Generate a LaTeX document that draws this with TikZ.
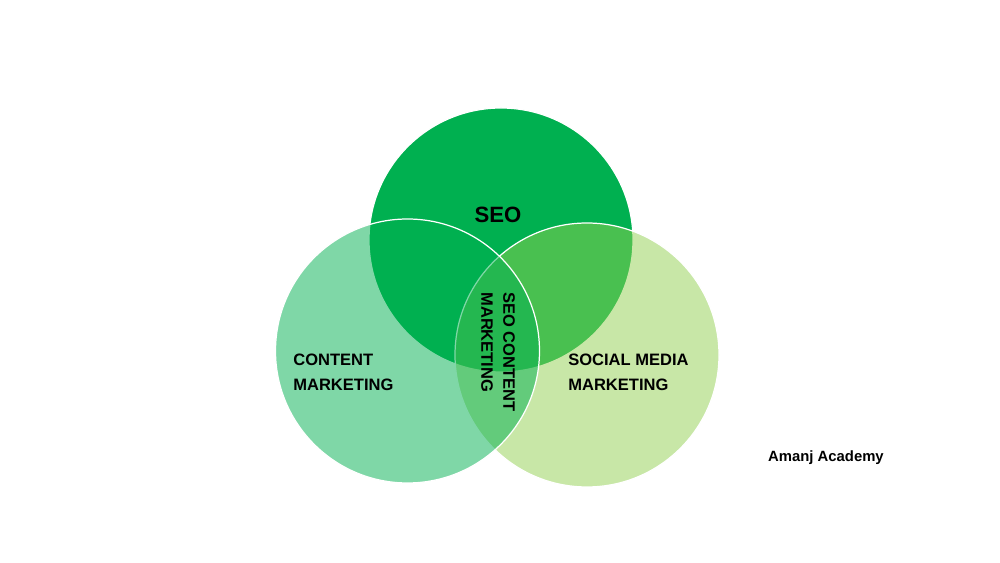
\documentclass[tikz,border=0pt]{standalone}
\usepackage{fontspec}
\setmainfont{Liberation Sans}
\usetikzlibrary{positioning}
\definecolor{seogreen}{HTML}{00B050}
\definecolor{lightgreen}{HTML}{92D050}
\tikzset{
  set/.style={circle,inner sep=0pt,minimum size=5.28cm,draw=white,line width=.7pt},
  lbl/.style={font=\bfseries\fontsize{9.4}{14.2}\selectfont,align=left,inner sep=0pt}
}
\begin{document}
\begin{tikzpicture}
\useasboundingbox[fill=white] (0,0) rectangle (20,11.26);
% the three sets
\node[set,fill=seogreen] (seo) at (10.02,6.46) {};
\node[set,fill=lightgreen,fill opacity=.5] (social) at (11.74,4.16) {};
\node[set,fill=seogreen,fill opacity=.5] (content) at (8.15,4.24) {};
% labels
\node[lbl,font=\bfseries\fontsize{12.6}{15}\selectfont] (seolbl) at (9.96,6.96) {SEO};
\node[lbl,anchor=west] (contentlbl) at (5.86,3.82) {CONTENT\\MARKETING};
\node[lbl,anchor=west] (sociallbl) at (11.36,3.82) {SOCIAL MEDIA\\MARKETING};
\node[lbl,font=\bfseries\fontsize{9.4}{12.5}\selectfont,rotate=-90] (midlbl) at (9.96,4.22) {SEO CONTENT\\MARKETING};
\node[lbl,font=\bfseries\fontsize{8.45}{10}\selectfont] (brand) at (16.52,2.1) {Amanj Academy};
\end{tikzpicture}
\end{document}
